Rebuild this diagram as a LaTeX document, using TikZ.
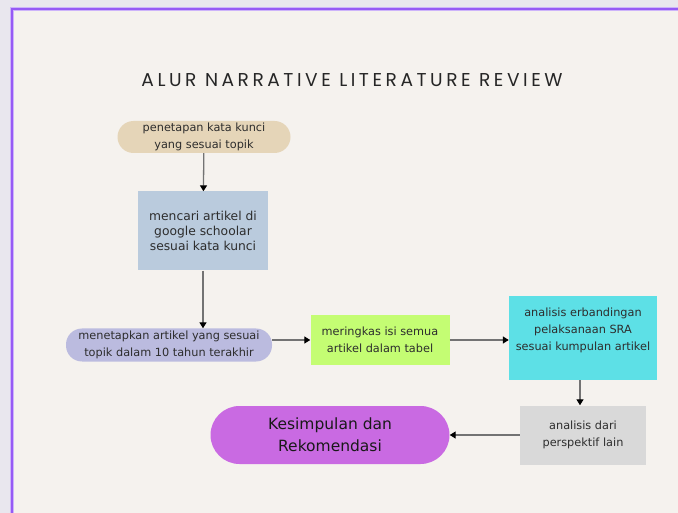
\documentclass[tikz,border=0pt]{standalone}
\usepackage{fontspec}
\setmainfont{DejaVu Sans}
\newfontfamily\titlefont[LetterSpace=19]{Poppins}
\usetikzlibrary{arrows.meta}

\definecolor{pagebg}{RGB}{245,242,238}
\definecolor{outerbg}{RGB}{233,231,238}
\definecolor{frame}{RGB}{150,90,245}
\definecolor{framesoft}{RGB}{205,180,250}
\definecolor{tan}{RGB}{229,213,184}
\definecolor{steel}{RGB}{186,203,221}
\definecolor{lavender}{RGB}{187,187,223}
\definecolor{lime}{RGB}{196,253,115}
\definecolor{cyanbox}{RGB}{93,224,230}
\definecolor{greybox}{RGB}{217,217,217}
\definecolor{magentabox}{RGB}{201,106,226}
\definecolor{ink}{RGB}{45,45,45}

\begin{document}
\begin{tikzpicture}[x=1pt, y=-1pt,
  box/.style={inner sep=0pt, align=center, text=ink,
    font=\fontsize{11.3}{17}\selectfont},
  pill/.style={box, rounded corners=#1},
  flow/.style={-{Triangle[width=7pt,length=6pt,color=black]}, line width=1.3pt, draw=black!55}]
\useasboundingbox (0,0) rectangle (678,513);
\fill [outerbg] (0,0) rectangle (678,513);
\fill [pagebg] (12,9) rectangle (678,513);
\draw [framesoft, line width=4pt] (12,513) -- (12,9) -- (678,9);
\draw [frame, line width=2pt] (12,513) -- (12,9) -- (678,9);

\node [text=black!85, font=\titlefont\fontsize{18.6}{21}\selectfont] (title) at (352, 80) {ALUR NARRATIVE LITERATURE REVIEW};

\node [pill=16pt, fill=tan, minimum width=173pt, minimum height=32pt] (kunci) at (204, 137) {penetapan kata kunci\\yang sesuai topik};
\node [box, fill=steel, minimum width=130pt, minimum height=79pt, font=\fontsize{12.3}{15}\selectfont] (cari) at (203, 231) {mencari artikel di\\google schoolar\\sesuai kata kunci};
\node [pill=16pt, fill=lavender, minimum width=206pt, minimum height=33pt] (tetap) at (169, 345) {menetapkan artikel yang sesuai\\topik dalam 10 tahun terakhir};
\node [box, fill=lime, minimum width=139pt, minimum height=49pt] (ringkas) at (380, 340) {meringkas isi semua\\artikel dalam tabel};
\node [box, fill=cyanbox, minimum width=148pt, minimum height=84pt] (banding) at (583, 338) {analisis erbandingan\\pelaksanaan SRA\\sesuai kumpulan artikel\\\mbox{}};
\node [box, fill=greybox, minimum width=126pt, minimum height=59pt] (perspektif) at (583, 435) {analisis dari\\perspektif lain};
\node [pill=29pt, fill=magentabox, minimum width=239pt, minimum height=58pt, text=black!90, font=\fontsize{15.5}{22}\selectfont] (simpul) at (330, 435) {Kesimpulan dan\\Rekomendasi};

\draw [flow] (kunci) -- (cari);
\draw [flow] (cari) -- (tetap.north -| cari);
\draw [flow] (tetap.east |- ringkas) -- (ringkas);
\draw [flow] (ringkas) -- (banding.west |- ringkas);
\draw [flow] (banding.south -| 580,0) -- (perspektif.north -| 580,0);
\draw [flow] (perspektif) -- (simpul);
\end{tikzpicture}
\end{document}
